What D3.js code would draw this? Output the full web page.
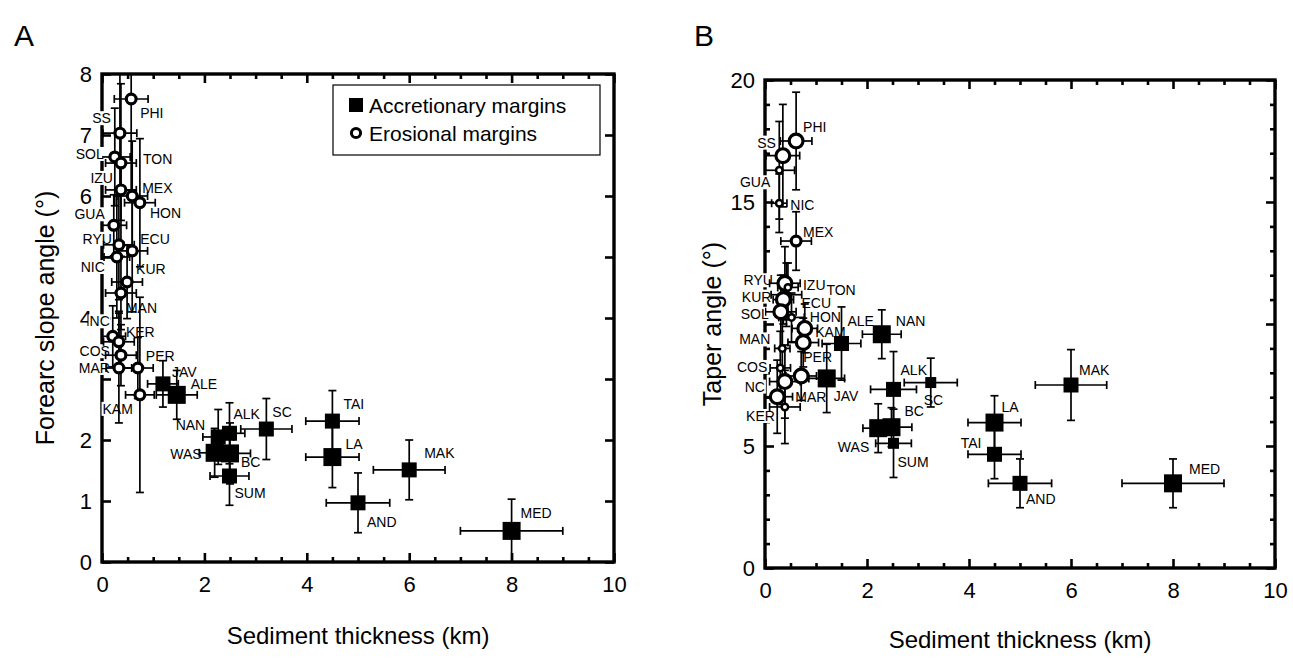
<!DOCTYPE html>
<html><head><meta charset="utf-8">
<script src="https://cdn.jsdelivr.net/npm/d3@7"></script>
<style>
body{margin:0;background:#fff;}
svg{display:block;font-family:"Liberation Sans",Arial,Helvetica,sans-serif;}
</style>
</head><body>
<svg id="chart" width="1293" height="660"></svg>
<script>
// ---------------- DATA ----------------
// Panel A: forearc slope angle (deg) vs sediment thickness (km)
const A_eros_names = ["PHI","SS","SOL","TON","IZU","MEX","HON","GUA","RYU","ECU","NIC","KUR","MAN","NC","KER","COS","MAR","PER","KAM"];
const A_eros_x     = [0.57,0.35,0.25,0.37,0.37,0.59,0.74,0.23,0.33,0.59,0.29,0.49,0.37,0.21,0.33,0.37,0.33,0.70,0.74];
const A_eros_y     = [7.59,7.03,6.64,6.54,6.10,6.00,5.89,5.52,5.20,5.10,5.00,4.59,4.41,3.70,3.61,3.39,3.18,3.18,2.74];
const A_eros_xerr  = [0.33,0.33,0.30,0.30,0.30,0.30,0.30,0.25,0.30,0.30,0.25,0.30,0.30,0.25,0.30,0.30,0.25,0.30,0.28];
const A_eros_yerr  = [1.50,1.00,0.80,1.30,0.50,0.90,1.05,0.50,0.90,1.00,1.00,0.60,0.60,0.50,0.50,0.50,0.90,0.50,1.60];
const A_eros_cls   = [2,2,2,2,2,2,2,2,2,2,2,2,2,2,2,2,2,2,2];

const A_accr_names = ["JAV","ALE","NAN","ALK","SC","WAS","BC","SUM","TAI","LA","MAK","AND","MED"];
const A_accr_x     = [1.19,1.46,2.27,2.49,3.21,2.20,2.50,2.49,4.50,4.50,6.00,5.00,8.00];
const A_accr_y     = [2.92,2.74,2.05,2.11,2.18,1.79,1.78,1.41,2.31,1.72,1.51,0.97,0.51];
const A_accr_xerr  = [0.30,0.40,0.30,0.30,0.50,0.30,0.40,0.38,0.52,0.52,0.70,0.62,1.00];
const A_accr_yerr  = [0.38,0.40,0.45,0.50,0.50,0.40,0.50,0.48,0.50,0.50,0.49,0.49,0.52];
const A_accr_cls   = [2,3,2,2,2,3,3,2,2,3,2,2,3];

// Panel B: taper angle (deg) vs sediment thickness (km)
const B_eros_names = ["PHI","SS","GUA","NIC","MEX","RYU","IZU","TON","KUR","ECU","SOL","HON","KAM","MAN","COS","PER","NC","MAR","KER"];
const B_eros_x     = [0.61,0.35,0.28,0.28,0.61,0.39,0.45,0.42,0.36,0.52,0.31,0.78,0.75,0.34,0.30,0.71,0.39,0.24,0.39];
const B_eros_y     = [17.5,16.9,16.3,14.95,13.4,11.67,11.5,11.2,11.0,10.27,10.5,9.82,9.24,9.0,8.2,7.87,7.64,7.02,6.6];
const B_eros_xerr  = [0.31,0.33,0.30,0.15,0.30,0.30,0.20,0.30,0.20,0.25,0.30,0.25,0.30,0.15,0.20,0.30,0.30,0.30,0.30];
const B_eros_yerr  = [2.0,2.1,2.0,1.2,1.2,1.5,1.0,1.3,1.0,1.0,1.5,1.0,1.0,1.5,1.5,1.0,1.5,1.5,1.5];
const B_eros_cls   = [3,3,1,1,2,3,1,1,3,1,3,3,3,1,1,3,3,3,1];

const B_accr_names = ["NAN","ALE","JAV","ALK","SC","WAS","BC","SUM","LA","TAI","MAK","AND","MED"];
const B_accr_x     = [2.29,1.50,1.21,2.52,3.25,2.22,2.48,2.52,4.50,4.50,6.00,5.00,8.00];
const B_accr_y     = [9.58,9.20,7.77,7.32,7.60,5.73,5.77,5.11,5.96,4.66,7.50,3.47,3.47];
const B_accr_xerr  = [0.38,0.38,0.35,0.45,0.52,0.30,0.40,0.35,0.52,0.52,0.70,0.62,1.00];
const B_accr_yerr  = [1.00,1.50,1.40,1.55,1.00,1.00,0.80,1.40,1.10,1.00,1.45,1.00,1.00];
const B_accr_cls   = [3,2,3,2,1,3,3,1,3,2,2,2,3];

// Tick values / labels
const xDomain = [0, 10];
const xMajorTicks = [0, 2, 4, 6, 8, 10];
const A_yDomain = [0, 8];
const A_yTickLabels = [0, 1, 2, 4, 6, 7, 8];
const B_yDomain = [0, 20];
const B_yTickLabels = [0, 5, 15, 20];
const legendLabels = ["Accretionary margins", "Erosional margins"];

// ---------------- LAYOUT (label placement, not data) ----------------
const A_labelPos = {
  PHI:[9,14,"s"], SS:[-9,-15,"e"], SOL:[-11,-3,"e"], TON:[22,-4,"s"], IZU:[-8,-12,"e"],
  MEX:[10,-8,"s"], HON:[10,10,"s"], GUA:[-9,-11,"e"], RYU:[-7,-6,"e"], ECU:[8,-12,"s"],
  NIC:[-12,10,"e"], KUR:[9,-13,"s"], MAN:[5,15,"s"], NC:[-3,-15,"e"], KER:[7,-10,"s"],
  COS:[-11,-4,"e"], MAR:[-9,0,"e"], PER:[8,-12,"s"], KAM:[-7,14,"e"],
  JAV:[9,-12,"s"], ALE:[14,-11,"s"], NAN:[-13,-12,"e"], ALK:[4,-19,"s"], SC:[6,-17,"s"],
  WAS:[-13,1,"e"], BC:[11,9,"s"], SUM:[5,17,"s"], TAI:[11,-17,"s"], LA:[13,-13,"s"],
  MAK:[15,-17,"s"], AND:[9,19,"s"], MED:[9,-18,"s"]
};
const B_labelPos = {
  PHI:[7,-14,"s"], SS:[-7,-13,"e"], GUA:[-9,12,"e"], NIC:[11,2,"s"], MEX:[7,-9,"s"],
  RYU:[-12,-3,"e"], IZU:[15,-2,"s"], TON:[40,-5,"s"], KUR:[-12,-3,"e"], ECU:[10,-14,"s"],
  SOL:[-12,2,"e"], HON:[5,-11,"s"], KAM:[12,-11,"s"], MAN:[-12,-9,"e"], COS:[-13,-1,"e"],
  PER:[2,-19,"s"], NC:[-20,5,"e"], MAR:[18,0,"s"], KER:[-10,9,"e"],
  NAN:[14,-13,"s"], ALE:[6,-23,"s"], JAV:[7,18,"s"], ALK:[7,-19,"s"], SC:[-7,17,"s"],
  BC:[13,-16,"s"], WAS:[-9,19,"e"], SUM:[4,19,"s"], TAI:[-13,-11,"e"], LA:[7,-16,"s"],
  MAK:[8,-15,"s"], AND:[6,16,"s"], MED:[16,-14,"s"]
};

const squareSize = d3.scaleOrdinal().domain([1,2,3]).range([11,15,18]);
const circleDiam = d3.scaleOrdinal().domain([1,2,3]).range([9,13,17]);

const svg = d3.select("#chart");

function zip(names, xs, ys, xe, ye, cls, type) {
  return names.map((n,i)=>({name:n, x:xs[i], y:ys[i], xe:xe[i], ye:ye[i], cls:cls[i], type}));
}

function drawPanel(cfg) {
  const {x, y, g, yTickLabels, yMinorStep, yMajorStep, eros, accr, labelPos, yTitle, xTitleY, yTitleX, letter, letterX} = cfg;
  const [x0, x1] = x.range();
  const [y0, y1] = y.range();
  const W = x1 - x0, H = y0 - y1;

  const xMinor = d3.range(xDomain[0], xDomain[1] + 0.001, 0.5).filter(v => v % 2 !== 0);
  const yAll = d3.range(y.domain()[0], y.domain()[1] + 0.001, yMinorStep);
  const yMinor = yAll.filter(v => v % yMajorStep !== 0);
  const yMajor = yAll.filter(v => v % yMajorStep === 0);

  const axesG = g.append("g");
  function addAxis(axisFn, scale, vals, size, fmt, tx, ty) {
    const a = axisFn(scale).tickValues(vals).tickSizeInner(-size).tickSizeOuter(0).tickPadding(10).tickFormat(fmt);
    const sel = axesG.append("g").attr("transform", `translate(${tx},${ty})`).call(a);
    sel.select(".domain").remove();
    sel.selectAll(".tick line").attr("stroke","#000").attr("stroke-width",2.6);
    sel.selectAll(".tick text").attr("fill","#000").style("font-size","22px").style("font-family","Liberation Sans, Arial, sans-serif");
    return sel;
  }
  const none = () => "";
  addAxis(d3.axisBottom, x, xMinor, 5, none, 0, y0);
  addAxis(d3.axisBottom, x, xMajorTicks, 9, d3.format("d"), 0, y0).selectAll(".tick text").attr("dy","0.9em");
  addAxis(d3.axisTop, x, xMinor, 5, none, 0, y1);
  addAxis(d3.axisTop, x, xMajorTicks, 9, none, 0, y1);
  addAxis(d3.axisLeft, y, yMinor, 5, none, x0, 0);
  addAxis(d3.axisLeft, y, yMajor, 9, v => yTickLabels.includes(v) ? d3.format("d")(v) : "", x0, 0);
  addAxis(d3.axisRight, y, yMinor, 5, none, x1, 0);
  addAxis(d3.axisRight, y, yMajor, 9, none, x1, 0);

  g.append("rect").attr("x", x0).attr("y", y1).attr("width", W).attr("height", H)
    .attr("fill","none").attr("stroke","#000").attr("stroke-width",3.4);

  const all = eros.concat(accr);

  const lblG = g.append("g");
  all.forEach(d => {
    const p = labelPos[d.name] || [8,-12,"s"];
    const t = lblG.append("text")
      .attr("x", x(d.x) + p[0]).attr("y", y(d.y) + p[1])
      .attr("text-anchor", p[2]==="e" ? "end" : (p[2]==="m" ? "middle" : "start"))
      .attr("dominant-baseline","central")
      .style("font-size","14px").attr("fill","#000").text(d.name);
    const bb = t.node().getBBox();
    lblG.insert("rect", () => t.node())
      .attr("x", bb.x - 1).attr("y", bb.y + 1).attr("width", bb.width + 2).attr("height", bb.height - 2)
      .attr("fill","#fff");
  });

  const clipId = "clip" + letter;
  g.append("clipPath").attr("id", clipId).append("rect")
    .attr("x", x0).attr("y", y1).attr("width", W).attr("height", H);
  const eg = g.append("g").attr("clip-path", `url(#${clipId})`).attr("stroke","#000").attr("stroke-width",1.7);
  const cap = 4;
  all.forEach(d => {
    const cx = x(d.x), cy = y(d.y);
    const xl = x(d.x - d.xe), xr = x(d.x + d.xe);
    const yt = y(d.y + d.ye), yb = y(d.y - d.ye);
    eg.append("line").attr("x1", xl).attr("x2", xr).attr("y1", cy).attr("y2", cy);
    eg.append("line").attr("x1", xl).attr("x2", xl).attr("y1", cy - cap).attr("y2", cy + cap);
    eg.append("line").attr("x1", xr).attr("x2", xr).attr("y1", cy - cap).attr("y2", cy + cap);
    eg.append("line").attr("x1", cx).attr("x2", cx).attr("y1", yt).attr("y2", yb);
    eg.append("line").attr("x1", cx - cap).attr("x2", cx + cap).attr("y1", yt).attr("y2", yt);
    eg.append("line").attr("x1", cx - cap).attr("x2", cx + cap).attr("y1", yb).attr("y2", yb);
  });

  const mg = g.append("g");
  mg.selectAll("rect.acc").data(accr).join("rect").attr("class","acc")
    .attr("x", d => x(d.x) - squareSize(d.cls)/2).attr("y", d => y(d.y) - squareSize(d.cls)/2)
    .attr("width", d => squareSize(d.cls)).attr("height", d => squareSize(d.cls))
    .attr("fill","#000");
  mg.selectAll("circle.ero").data(eros).join("circle").attr("class","ero")
    .attr("cx", d => x(d.x)).attr("cy", d => y(d.y))
    .attr("r", d => (circleDiam(d.cls) - (d.cls===1?2.5:3.2))/2)
    .attr("fill","#fff").attr("stroke","#000").attr("stroke-width", d => d.cls===1?2.5:3.2);

  g.append("text").attr("x", (x0+x1)/2).attr("y", xTitleY).attr("text-anchor","middle")
    .style("font-size","24px").text("Sediment thickness (km)");
  g.append("text").attr("transform", `translate(${yTitleX},${(y0+y1)/2}) rotate(-90)`)
    .attr("text-anchor","middle").attr("dominant-baseline","central")
    .style("font-size","25px").text(yTitle);
  g.append("text").attr("x", letterX).attr("y", 46).style("font-size","30px").text(letter);
}

const xA = d3.scaleLinear().domain(xDomain).range([102, 614]);
const yA = d3.scaleLinear().domain(A_yDomain).range([562, 74]);
drawPanel({
  x: xA, y: yA, g: svg.append("g"),
  yTickLabels: A_yTickLabels, yMinorStep: 1, yMajorStep: 1,
  eros: zip(A_eros_names, A_eros_x, A_eros_y, A_eros_xerr, A_eros_yerr, A_eros_cls, "e"),
  accr: zip(A_accr_names, A_accr_x, A_accr_y, A_accr_xerr, A_accr_yerr, A_accr_cls, "a"),
  labelPos: A_labelPos, yTitle: "Forearc slope angle (°)", xTitleY: 644, yTitleX: 45,
  letter: "A", letterX: 14
});

const xB = d3.scaleLinear().domain(xDomain).range([765, 1275]);
const yB = d3.scaleLinear().domain(B_yDomain).range([568, 80]);
drawPanel({
  x: xB, y: yB, g: svg.append("g"),
  yTickLabels: B_yTickLabels, yMinorStep: 1, yMajorStep: 5,
  eros: zip(B_eros_names, B_eros_x, B_eros_y, B_eros_xerr, B_eros_yerr, B_eros_cls, "e"),
  accr: zip(B_accr_names, B_accr_x, B_accr_y, B_accr_xerr, B_accr_yerr, B_accr_cls, "a"),
  labelPos: B_labelPos, yTitle: "Taper angle (°)", xTitleY: 648, yTitleX: 712,
  letter: "B", letterX: 694
});

const lg = svg.append("g");
lg.append("rect").attr("x", 333).attr("y", 85).attr("width", 267).attr("height", 70)
  .attr("fill","#fff").attr("stroke","#000").attr("stroke-width",1.2);
lg.append("rect").attr("x", 349).attr("y", 98).attr("width", 14).attr("height", 14).attr("fill","#000");
lg.append("circle").attr("cx", 356).attr("cy", 133).attr("r", 4.6).attr("fill","#fff").attr("stroke","#000").attr("stroke-width",3);
lg.selectAll("text").data(legendLabels).join("text")
  .attr("x", 369).attr("y", (d,i) => 105 + i*28).attr("dominant-baseline","central")
  .style("font-size","21px").text(d => d);
</script>
</body></html>
